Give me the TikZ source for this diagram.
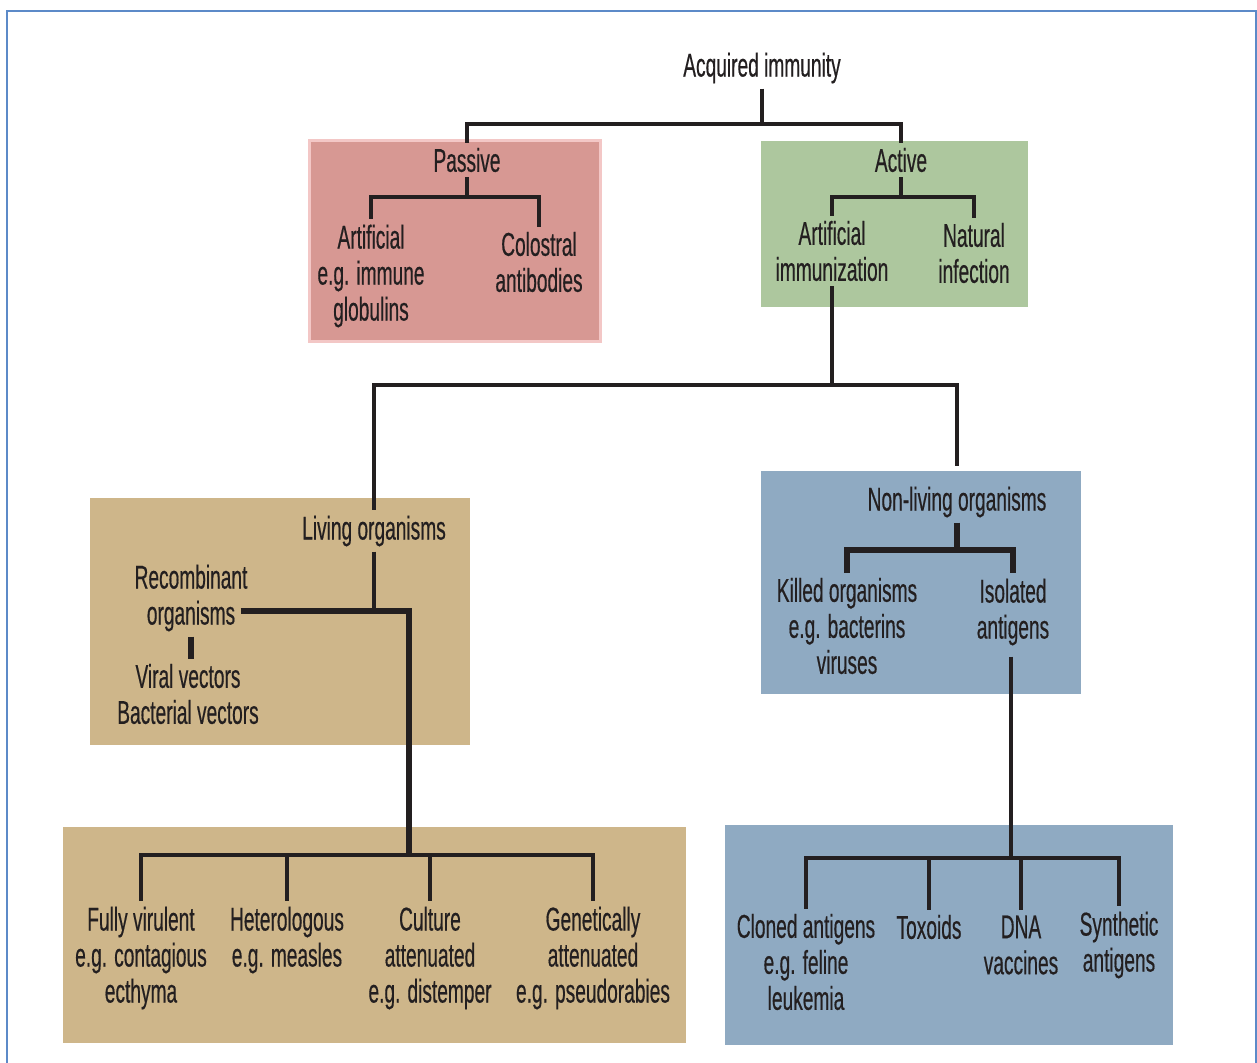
\documentclass[tikz,border=0pt]{standalone}
\usepackage{fontspec}
\setmainfont[FakeStretch=0.58,FakeBold=0.4]{Liberation Sans}
\usetikzlibrary{calc}
\definecolor{ink}{HTML}{231F20}
\definecolor{framec}{HTML}{5C8AC8}
\definecolor{pinkfill}{HTML}{D79893}
\definecolor{pinkedge}{HTML}{F3C7C6}
\definecolor{greenfill}{HTML}{ADC79E}
\definecolor{tanfill}{HTML}{CEB68A}
\definecolor{bluefill}{HTML}{8FAAC2}
\begin{document}
\begin{tikzpicture}[x=1pt,y=-1pt,
  lbl/.style={font=\fontsize{33}{36}\selectfont, text=ink, align=center, inner sep=5pt},
  panel/.style={rectangle, inner sep=0pt, anchor=north west, draw=none},
  conn/.style={draw=ink, line width=3.5pt},
  mconn/.style={draw=ink, line width=4.5pt},
  tconn/.style={draw=ink, line width=6pt}]
\useasboundingbox (0,0) rectangle (1257,1062);
\fill[white] (0,0) rectangle (1257,1062);
\draw[framec, line width=2pt] (7,11) rectangle (1256,1090);

% panels
\node[panel, fill=pinkfill, draw=pinkedge, line width=3pt, minimum width=291pt, minimum height=201pt] (bP) at (308,139) {};
\node[panel, fill=greenfill, minimum width=267pt, minimum height=166pt] (bA) at (761,141) {};
\node[panel, fill=tanfill, minimum width=380pt, minimum height=247pt] (bL) at (90,498) {};
\node[panel, fill=tanfill, minimum width=623pt, minimum height=216pt] (bLL) at (63,827) {};
\node[panel, fill=bluefill, minimum width=320pt, minimum height=223pt] (bN) at (761,471) {};
\node[panel, fill=bluefill, minimum width=448pt, minimum height=220pt] (bNN) at (725,825) {};

% labels
\node[lbl] (acq) at (762,68) {Acquired immunity};
\node[lbl] (pas) at (467,160) {Passive};
\node[lbl] (art1) at (371,276) {Artificial\\e.g. immune\\globulins};
\node[lbl] (col) at (539,262) {Colostral\\antibodies};
\node[lbl] (act) at (901,160) {Active};
\node[lbl] (aimm) at (832,251) {Artificial\\immunization};
\node[lbl] (nat) at (974,253) {Natural\\infection};
\node[lbl] (liv) at (374,531) {Living organisms};
\node[lbl] (rec) at (191,598) {Recombinant\\organisms};
\node[lbl] (vec) at (188,694) {Viral vectors\\Bacterial vectors};
\node[lbl] (fv) at (141,958) {Fully virulent\\e.g. contagious\\ecthyma};
\node[lbl] (het) at (287,940) {Heterologous\\e.g. measles};
\node[lbl] (cul) at (430,958) {Culture\\attenuated\\e.g. distemper};
\node[lbl] (gen) at (593,958) {Genetically\\attenuated\\e.g. pseudorabies};
\node[lbl] (nonl) at (957,502) {Non-living organisms};
\node[lbl] (kil) at (847,626) {Killed organisms\\e.g. bacterins\\viruses};
\node[lbl] (iso) at (1013,612) {Isolated\\antigens};
\node[lbl] (clo) at (806,962) {Cloned antigens\\e.g. feline\\leukemia};
\node[lbl] (tox) at (929,927) {Toxoids};
\node[lbl] (dna) at (1021,945) {DNA\\vaccines};
\node[lbl] (syn) at (1119,945) {Synthetic\\antigens};

% junctions
\coordinate (j1) at (762,124);
\coordinate (j2) at (467,197);
\coordinate (j3) at (901,197);
\coordinate (j4) at (832,385);
\coordinate (j5) at (374,611);
\coordinate (j5r) at (409,611);
\coordinate (j6) at (409,855);
\coordinate (j7) at (1011,858);
\coordinate (j8) at (957,550);

% connectors
\draw[conn] (acq) -- (j1);
\draw[conn] (j1) -| (pas);
\draw[conn] (j1) -| (act);
\draw[conn] (pas) -- (j2);
\draw[conn] (j2) -| (art1);
\draw[conn] (j2) -| (col);
\draw[conn] (act) -- (j3);
\draw[conn] (j3) -| (aimm);
\draw[conn] (j3) -| (nat);
\draw[conn] (aimm) -- (j4);
\draw[conn] (j4) -| (liv);
\draw[conn, shorten >=15pt] (j4) -| (nonl);
\draw[conn] (liv) -- (j5);
\draw[tconn, line join=miter] ([xshift=-12pt]rec.east |- j5) -- (j5r) -- (j6);
\draw[tconn] (rec.south) -- (rec.south |- vec.north);
\draw[mconn] (j6) -| (fv);
\draw[mconn] (j6) -| (het);
\draw[mconn] (j6) -| (cul);
\draw[mconn] (j6) -| (gen);
\draw[tconn] (nonl) -- (j8);
\draw[tconn] (j8) -| (kil);
\draw[tconn] (j8) -| (iso);
\draw[conn, shorten <=6pt] (iso.south -| j7) -- (j7);
\draw[mconn] (j7) -| (clo);
\draw[mconn] (j7) -| (tox);
\draw[mconn] (j7) -| (dna);
\draw[mconn] (j7) -| (syn);
\end{tikzpicture}
\end{document}
